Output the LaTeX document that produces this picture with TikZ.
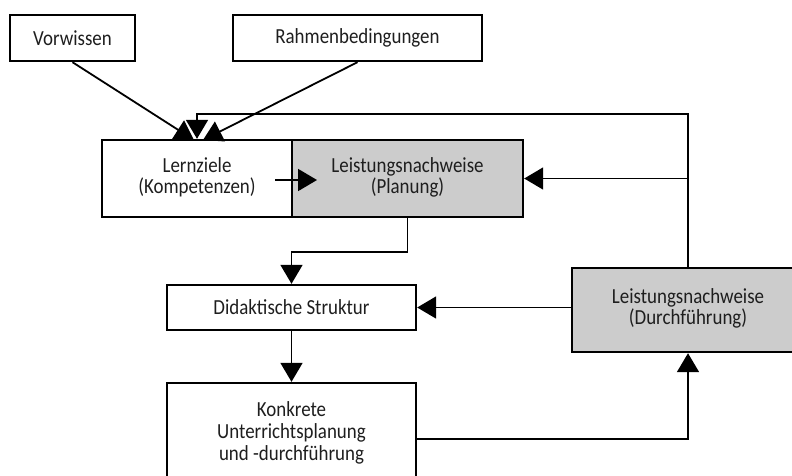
\documentclass[tikz,border=0pt]{standalone}
\usepackage{fontspec}
\setmainfont{Carlito}[FakeStretch=0.88]
\usetikzlibrary{arrows.meta}
\definecolor{boxgray}{RGB}{204,204,204}
\definecolor{txtgray}{RGB}{30,30,30}
\tikzset{
  box/.style={draw=black, line width=2.4pt, rectangle, inner sep=0pt, align=center,
              text=txtgray, font=\fontsize{21.5}{21.5}\selectfont},
  graybox/.style={box, fill=boxgray},
  txt/.style={inner sep=0pt, align=center, text=txtgray, font=\fontsize{21.5}{22.3}\selectfont},
  conn/.style={line width=1.8pt, -{Triangle[length=19pt,width=22pt]}}
}
\begin{document}
\begin{tikzpicture}[x=1pt,y=-1pt]
\useasboundingbox (0,0) rectangle (792,475);
\clip (0,0) rectangle (792,475);
% boxes
\node[box, minimum width=125pt, minimum height=46pt] (vor) at (72.5,38) {Vorwissen};
\node[box, minimum width=249pt, minimum height=46pt] (rah) at (357.5,38) {Rahmenbedingungen};
\node[box, minimum width=190pt, minimum height=77pt] (lz) at (197,178.5) {\raisebox{2pt}{\begin{tabular}{@{}c@{}}Lernziele\\[-1.5pt](Kompetenzen)\end{tabular}}};
\node[graybox, minimum width=231pt, minimum height=77pt] (lp) at (407.5,178.5) {\raisebox{2pt}{\begin{tabular}{@{}c@{}}Leistungsnachweise\\[-1.5pt](Planung)\end{tabular}}};
\node[box, minimum width=249pt, minimum height=45pt] (dk) at (291.5,307.5) {Didaktische Struktur};
\node[box, minimum width=249pt, minimum height=107pt] (ko) at (291.5,436.5) {};
\node[txt, anchor=north] (kotext) at (291.5,401) {Konkrete\\Unterrichtsplanung\\und -durchführung};
\node[graybox, minimum width=232pt, minimum height=84pt] (ld) at (688,310) {\raisebox{6pt}{\begin{tabular}{@{}c@{}}Leistungsnachweise\\[-1.5pt](Durchführung)\end{tabular}}};
% helper coordinates
\coordinate (tipA) at (194,140);
\coordinate (tipC) at (203,140);
\coordinate (topR) at (688,114);
\coordinate (topL) at (197,114);
\coordinate (midR) at (688,178.5);
\coordinate (lzs) at (275,180);
\coordinate (lzt) at (317,180);
\coordinate (pl1) at (407.5,252);
\coordinate (pl2) at (291.5,252);
\coordinate (bot) at (688,439);
% connectors
\draw[conn] (vor.south) -- (tipA);
\draw[conn] (rah.south) -- (tipC);
\draw[conn] (ld.north) -- (topR) -- (topL) -- (lz.north);
\draw[conn] (midR) -- (lp.east);
\draw[conn] (lzs) -- (lzt);
\draw[conn] (lp.south) -- (pl1) -- (pl2) -- (dk.north);
\draw[conn] (dk.south) -- (ko.north);
\draw[conn] (ld.west |- dk.east) -- (dk.east);
\draw[conn] (ko.east |- bot) -- (bot) -- (ld.south);
\end{tikzpicture}
\end{document}
